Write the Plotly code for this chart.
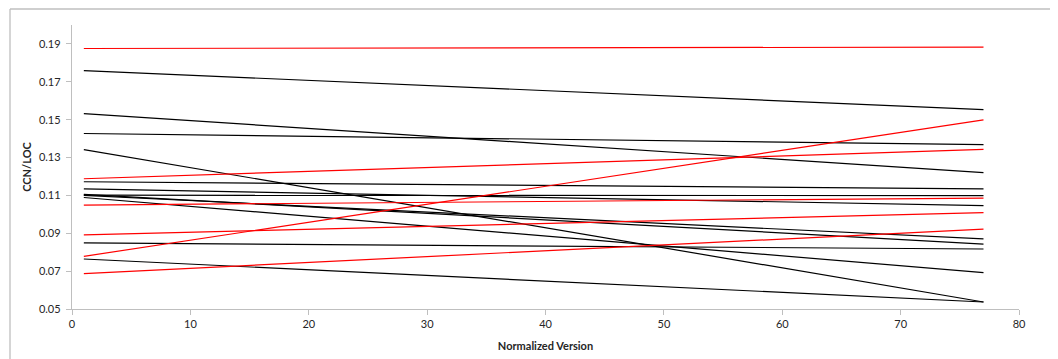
import plotly.graph_objects as go

# Normalized version endpoints
versions = [1, 77]

# Red series (start value at version 1, end value at version 77)
red_start = [0.1876, 0.1188, 0.1049, 0.0892, 0.0778, 0.0687]
red_end = [0.1883, 0.1343, 0.1086, 0.1009, 0.1499, 0.0922]

# Black series
black_start = [0.1759, 0.1532, 0.1427, 0.1342, 0.1172, 0.1134,
               0.1101, 0.1100, 0.1105, 0.1089, 0.0849, 0.0764]
black_end = [0.1553, 0.1220, 0.1368, 0.0537, 0.1134, 0.1046,
             0.1099, 0.0870, 0.0843, 0.0692, 0.0817, 0.0537]

y_ticks = [0.05, 0.07, 0.09, 0.11, 0.13, 0.15, 0.17, 0.19]
x_ticks = [0, 10, 20, 30, 40, 50, 60, 70, 80]

fig = go.Figure()
for s, e in zip(black_start, black_end):
    fig.add_trace(go.Scatter(x=versions, y=[s, e], mode="lines",
                             line=dict(color="#000000", width=1.2),
                             showlegend=False, hoverinfo="skip"))
for s, e in zip(red_start, red_end):
    fig.add_trace(go.Scatter(x=versions, y=[s, e], mode="lines",
                             line=dict(color="#FF0000", width=1.2),
                             showlegend=False, hoverinfo="skip"))

axis_col = "#BFBFBF"
FAM = "Lato, Open Sans, sans-serif"
tick_font = dict(family=FAM, size=11, color="#262626")
title_font = dict(family=FAM, size=11, color="#262626")

# Page body has an 8px margin; the plot area should sit at x 72..1019, y 25..309
fig.update_layout(
    width=1050, height=351,
    margin=dict(l=64, r=39, t=17, b=50),
    paper_bgcolor="white", plot_bgcolor="white",
    font=tick_font,
    xaxis=dict(range=[0, 80], tickvals=x_ticks, ticktext=[str(v) for v in x_ticks],
               showgrid=False, zeroline=False, showline=True, linecolor=axis_col,
               linewidth=1.3, ticks="outside", ticklen=5, tickcolor=axis_col,
               tickfont=tick_font, automargin=False,
               title=dict(text="<b>Normalized Version</b>", standoff=12, font=title_font)),
    yaxis=dict(range=[0.05, 0.20], tickvals=y_ticks, ticktext=["%.2f" % v for v in y_ticks],
               showgrid=False, zeroline=False, showline=True, linecolor=axis_col,
               linewidth=1.3, ticks="outside", ticklen=5, tickcolor=axis_col,
               tickfont=tick_font, ticklabelstandoff=3, automargin=False,
               title=dict(text="<b>CCN/LOC</b>", standoff=5, font=title_font)),
    shapes=[
        dict(type="line", xref="paper", yref="paper",
             x0=(10 - 72) / 947, x1=(1060 - 72) / 947,
             y0=(309 - 9) / 284, y1=(309 - 9) / 284,
             line=dict(color="#BFBFBF", width=1.3)),
        dict(type="line", xref="paper", yref="paper",
             x0=(10 - 72) / 947, x1=(10 - 72) / 947,
             y0=(309 - 9) / 284, y1=(309 - 362) / 284,
             line=dict(color="#BFBFBF", width=1.3)),
    ],
)

fig.write_html("out.html")
